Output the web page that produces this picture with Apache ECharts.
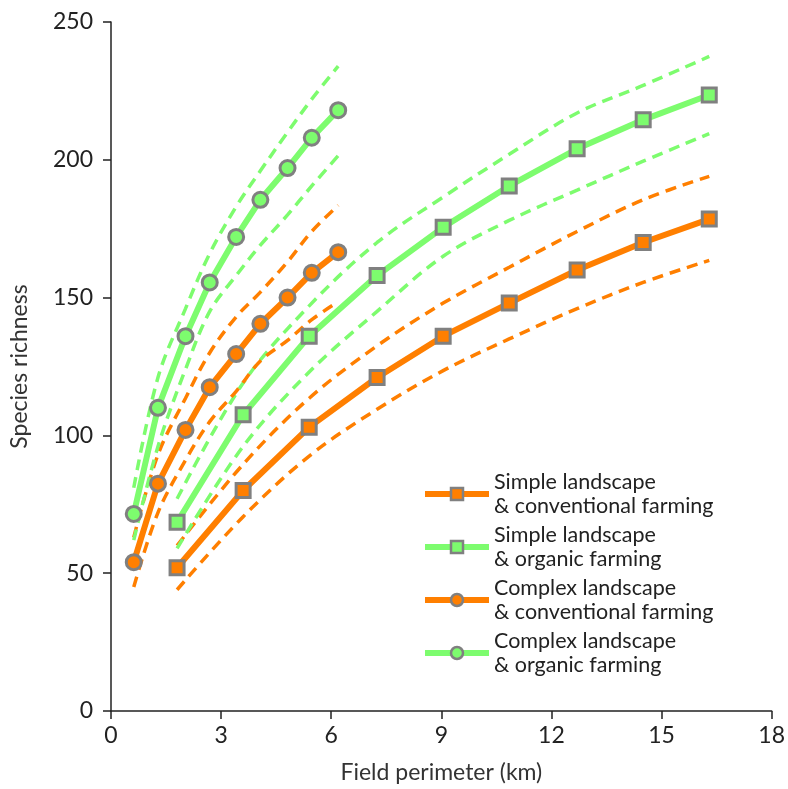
<!DOCTYPE html>
<html>
<head>
<meta charset="utf-8">
<script src="https://cdn.jsdelivr.net/npm/echarts@6/dist/echarts.min.js"></script>
<style>
  html, body { margin: 0; padding: 0; background: #fff; }
  #chart { width: 788px; height: 789px; }
</style>
</head>
<body>
<div id="chart"></div>
<script>
// field perimeter (km) where the estimates were plotted
var simpleX = [1.8, 3.6, 5.4, 7.25, 9.05, 10.85, 12.7, 14.5, 16.3]
var complexX = [0.62, 1.28, 2.03, 2.69, 3.41, 4.07, 4.81, 5.47, 6.19]

// simple landscape & conventional farming
var scMean = [52, 80, 103, 121, 136, 148, 160, 170, 178.5]
var scUpper = [60, 89.5, 113.5, 132.5, 148, 161, 174, 185.5, 194]
var scLower = [44, 70.5, 92.5, 109.5, 123.5, 135, 146, 155.5, 163.5]

// simple landscape & organic farming
var soMean = [68.5, 107.5, 136, 158, 175.5, 190.5, 204, 214.5, 223.5]
var soUpper = [77, 119, 147, 170, 186.5, 202, 217, 227, 237.5]
var soLower = [59, 96, 123, 145, 165, 178, 189, 199.5, 209.5]

// complex landscape & conventional farming
var ccMean = [54, 82.5, 102, 117.5, 129.5, 140.5, 150, 159, 166.5]
var ccUpper = [63, 93, 113.5, 130, 143, 152, 163, 174, 183.5]
var ccLower = [45, 72, 91, 105, 116, 127, 134.5, 142, 148.5]

// complex landscape & organic farming
var coMean = [71.5, 110, 136, 155.5, 172, 185.5, 197, 208, 218]
var coUpper = [81, 121, 146, 166, 183, 196, 210, 222, 234]
var coLower = [62, 96, 124, 145, 158, 169, 180, 190.5, 201.5]

var names = [
  'Simple landscape\n& conventional farming',
  'Simple landscape\n& organic farming',
  'Complex landscape\n& conventional farming',
  'Complex landscape\n& organic farming'
]

var ORANGE = '#ff7f00'
var GREEN = '#7dfc6e'
var GREY = '#808080'
var FONT = 'Lato'

function pairs(xs, ys) {
  return xs.map(function (x, i) { return [x, ys[i]] })
}

// main line with markers
function mainSeries(name, xs, ys, color, symbol) {
  return {
    name: name,
    type: 'line',
    data: pairs(xs, ys),
    z: 5,
    symbol: symbol,
    symbolSize: symbol == 'rect' ? 14 : 15,
    showAllSymbol: true,
    lineStyle: { color: color, width: 6 },
    itemStyle: { color: color, borderColor: GREY, borderWidth: 3 },
    emphasis: { disabled: true }
  }
}

// dashed band line
function bandSeries(xs, ys, color) {
  return {
    type: 'line',
    data: pairs(xs, ys),
    z: 2,
    smooth: 0.35,
    symbol: 'none',
    silent: true,
    lineStyle: { color: color, width: 3.5, type: [11, 7] }
  }
}

var chart = echarts.init(document.getElementById('chart'))
chart.setOption({
  animation: false,
  textStyle: { fontFamily: FONT },
  grid: { left: 111, right: 14, top: 22, bottom: 77 },
  legend: {
    data: names,
    orient: 'vertical',
    left: 417,
    top: 465,
    itemWidth: 64,
    itemHeight: 15,
    itemGap: 5,
    lineStyle: { width: 6 },
    itemStyle: { borderWidth: 2.5 },
    textStyle: { fontSize: 21.5, color: '#222', lineHeight: 24, fontFamily: FONT },
    selectedMode: false
  },
  xAxis: {
    type: 'value',
    min: 0,
    max: 18,
    interval: 3,
    name: 'Field perimeter (km)',
    nameLocation: 'middle',
    nameGap: 50,
    nameTextStyle: { fontSize: 23, color: '#333' },
    axisLine: { lineStyle: { color: '#222', width: 1.5 } },
    axisTick: { length: 8, lineStyle: { color: '#222', width: 1.5 } },
    axisLabel: { fontSize: 23, color: '#222', margin: 13 },
    splitLine: { show: false }
  },
  yAxis: {
    type: 'value',
    min: 0,
    max: 250,
    interval: 50,
    name: 'Species richness',
    nameLocation: 'middle',
    nameGap: 80,
    nameTextStyle: { fontSize: 23, color: '#333' },
    axisLine: { show: true, lineStyle: { color: '#222', width: 1.5 } },
    axisTick: { show: true, length: 8, lineStyle: { color: '#222', width: 1.5 } },
    axisLabel: { fontSize: 23, color: '#222', margin: 18 },
    splitLine: { show: false }
  },
  series: [
    bandSeries(simpleX, scUpper, ORANGE),
    bandSeries(simpleX, scLower, ORANGE),
    bandSeries(simpleX, soUpper, GREEN),
    bandSeries(simpleX, soLower, GREEN),
    bandSeries(complexX, ccUpper, ORANGE),
    bandSeries(complexX, ccLower, ORANGE),
    bandSeries(complexX, coUpper, GREEN),
    bandSeries(complexX, coLower, GREEN),
    mainSeries(names[0], simpleX, scMean, ORANGE, 'rect'),
    mainSeries(names[1], simpleX, soMean, GREEN, 'rect'),
    mainSeries(names[2], complexX, ccMean, ORANGE, 'circle'),
    mainSeries(names[3], complexX, coMean, GREEN, 'circle')
  ]
})
</script>
</body>
</html>
